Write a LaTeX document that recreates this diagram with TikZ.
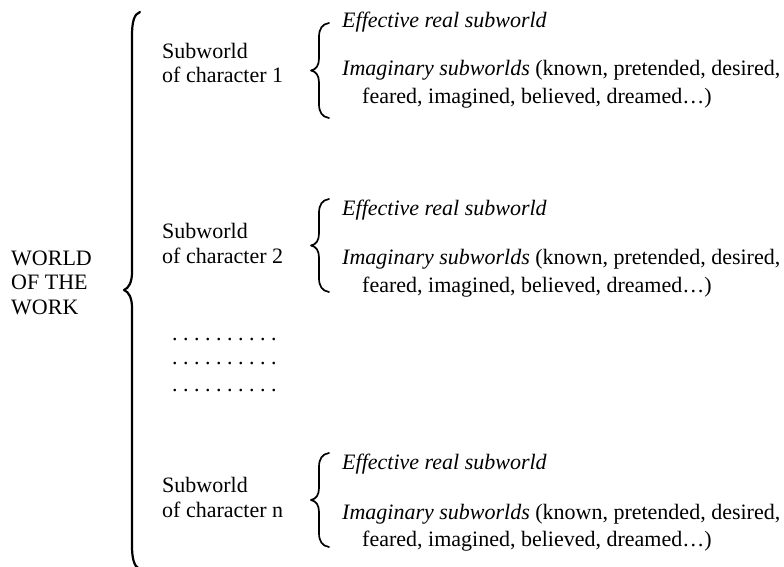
\documentclass[tikz,border=0pt]{standalone}
\usepackage{fontspec}
\setmainfont{Liberation Serif}
\newcommand\subbrace[2]{%
  \draw[smallbrace] (329,#1) .. controls (322,#1+1) and (319,#1+6) .. (319,#1+14)
    -- (319,{(#1+#2)/2-12}) .. controls (319,{(#1+#2)/2-5}) and (316,{(#1+#2)/2-1}) .. (311,{(#1+#2)/2})
    .. controls (316,{(#1+#2)/2+1}) and (319,{(#1+#2)/2+5}) .. (319,{(#1+#2)/2+12})
    -- (319,#2-14) .. controls (319,#2-6) and (322,#2-1) .. (329,#2);}
\begin{document}
\begin{tikzpicture}[x=1pt,y=-1pt,
  txt/.style={anchor=base west, inner sep=0pt, align=left,
    font=\fontsize{22}{24.5}\selectfont\frenchspacing},
  bigbrace/.style={line width=2.2pt, line cap=round, line join=round},
  smallbrace/.style={line width=1.7pt, line cap=round, line join=round}]
\useasboundingbox (0,0) rectangle (784,567);

% the whole world of the work (multi-line nodes sit on their last baseline)
\node[txt] (world) at (11,314) {WORLD\\OF THE\\WORK};
\draw[bigbrace] (140,12) .. controls (134,14) and (132,22) .. (132,36)
  -- (132,272) .. controls (132,282) and (129,288) .. (124,290)
  .. controls (129,292) and (132,298) .. (132,308)
  -- (132,546) .. controls (132,558) and (134,566) .. (139,569);

% character 1
\node[txt] (sub1) at (162,83) {Subworld\\of character 1};
\subbrace{23}{118}
\node[txt] (eff1) at (342,28) {\itshape Effective real subworld};
\node[txt] (imag1) at (342,76) {\textit{Imaginary subworlds} (known, pretended, desired,};
\node[txt] (fear1) at (362,104) {feared, imagined, believed, dreamed\dots)};

% character 2
\node[txt] (sub2) at (162,263) {Subworld\\of character 2};
\subbrace{199}{292}
\node[txt] (eff2) at (342,215) {\itshape Effective real subworld};
\node[txt] (imag2) at (342,264) {\textit{Imaginary subworlds} (known, pretended, desired,};
\node[txt] (fear2) at (362,292) {feared, imagined, believed, dreamed\dots)};

% ellipsis rows
\node[txt] (dots1) at (172,340) {. . . . . . . . . .};
\node[txt] (dots2) at (172,364) {. . . . . . . . . .};
\node[txt] (dots3) at (172,391) {. . . . . . . . . .};

% character n
\node[txt] (sub3) at (162,517) {Subworld\\of character n};
\subbrace{453}{547}
\node[txt] (eff3) at (342,469) {\itshape Effective real subworld};
\node[txt] (imag3) at (342,519) {\textit{Imaginary subworlds} (known, pretended, desired,};
\node[txt] (fear3) at (362,546) {feared, imagined, believed, dreamed\dots)};
\end{tikzpicture}
\end{document}
